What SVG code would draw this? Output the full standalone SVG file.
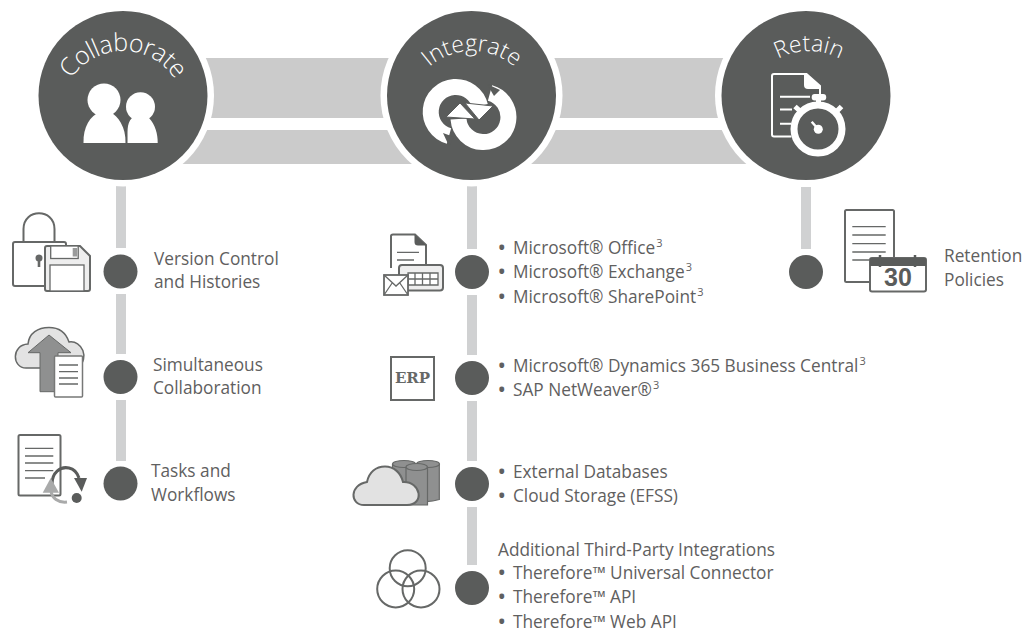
<svg xmlns="http://www.w3.org/2000/svg" xmlns:xlink="http://www.w3.org/1999/xlink" width="1026" height="633" viewBox="0 0 1026 633">
<style>
text{font-family:"Open Sans","Liberation Sans",sans-serif}
.t{font-size:17.25px;fill:#5f6060}
.s{font-size:11px}
.b{font-weight:700}
.title{fill:#fff;font-weight:300}
.band{fill:#cbcbcb}
.bar{fill:#d0d1d2}
.dot{fill:#5a5c5b}
.big{fill:#5a5c5b}
.ring{fill:#fff}
.ol{fill:none;stroke:#666867;stroke-width:2;stroke-linejoin:round}
.th{fill:none;stroke:#666867;stroke-width:1.3}
.wl{fill:none;stroke:#fff;stroke-width:2}
</style>
<defs>
<path id="a1" d="M61 113A62 62 0 0 1 185 113"/>
<path id="a2" d="M407 116A65 65 0 0 1 537 116"/>
<path id="a3" d="M744 116A65 65 0 0 1 874 116"/>
</defs>
<g id="connectors">
<rect class="band" x="123" y="58" width="683" height="60"/>
<rect class="band" x="123" y="130" width="683" height="34"/>
<rect class="bar" x="116" y="186" width="10" height="62"/>
<rect class="bar" x="116" y="294" width="10" height="60"/>
<rect class="bar" x="116" y="400" width="10" height="61"/>
<rect class="bar" x="467" y="186" width="10" height="63"/>
<rect class="bar" x="467" y="295" width="10" height="60"/>
<rect class="bar" x="467" y="401" width="10" height="60"/>
<rect class="bar" x="467" y="507" width="10" height="58"/>
<rect class="bar" x="801" y="187" width="10" height="62"/>
</g>
<g id="collaborate">
<circle class="ring" cx="123" cy="95.5" r="91"/>
<circle class="big" cx="123" cy="95.5" r="84.5"/>
<text class="title" text-anchor="middle" font-size="25" letter-spacing="-0.6"><textPath xlink:href="#a1" href="#a1" startOffset="50%">Collaborate</textPath></text>
<circle cx="104" cy="100" r="16.5" fill="#fff"/>
<path d="M83.5 143C83 127 90 116 100 112H110C118 116 126 127 125.500 143Z" fill="#fff"/>
<circle cx="140.500" cy="106.700" r="14.500" fill="#fff"/>
<path d="M127.500 143C128 132 126 124 132 118H149C155 124 158 134 157.700 143Z" fill="#fff"/>
</g>
<g id="integrate">
<circle class="ring" cx="471.500" cy="95.5" r="91"/>
<circle class="big" cx="471.500" cy="95.5" r="84.5"/>
<text class="title" text-anchor="middle" font-size="23"><textPath xlink:href="#a2" href="#a2" startOffset="50%">Integrate</textPath></text>
<path d="M449 136A25 25 0 1 1 480 106" fill="none" stroke="#fff" stroke-width="16"/>
<path d="M490 93A25 25 0 1 1 458.500 119" fill="none" stroke="#fff" stroke-width="16"/>
<polygon points="465,103 493,106 479,120" fill="#fff" stroke="#5a5c5b" stroke-width="1"/>
<polygon points="446,117 475,119 460,103" fill="#fff" stroke="#5a5c5b" stroke-width="1"/>
<polygon points="443,133 449,146 454,137" fill="#5a5c5b"/>
<polygon points="487,84 494,96 500,90" fill="#5a5c5b"/>
</g>
<g id="retain">
<circle class="ring" cx="806" cy="95.5" r="91"/>
<circle class="big" cx="806" cy="95.5" r="84.5"/>
<text class="title" text-anchor="middle" font-size="23"><textPath xlink:href="#a3" href="#a3" startOffset="50%">Retain</textPath></text>
<path class="wl" d="M791.500 136.500H774Q772 136.500 772 134.500V76Q772 74 774 74H806.500L820 86V95"/>
<path d="M804 74H806.500L820 86V89H808Q804 89 804 85Z" fill="#fff"/>
<path class="wl" d="M780 96.700H810M780 109.500H792M780 123.700H791"/>
<rect x="811.700" y="94" width="14.500" height="6.500" rx="3" fill="#fff"/>
<rect x="816" y="99" width="5" height="5" fill="#fff"/>
<circle cx="818" cy="129" r="24" fill="none" stroke="#fff" stroke-width="7"/>
<path d="M795 106.500L800 111M841.500 106.500L836 112" stroke="#fff" stroke-width="5" fill="none"/>
<circle cx="818.300" cy="129.300" r="4.500" fill="#fff"/>
<path d="M811.700 121.700L818 129" stroke="#fff" stroke-width="2.500"/>
</g>
<g id="version-control">
<rect class="ol" x="13" y="242" width="53" height="44" rx="2"/>
<path class="ol" d="M23.500 242V229C23.500 208 54.500 208 54.500 229V242"/>
<circle cx="39" cy="258" r="3.500" fill="#666867"/><rect x="37.700" y="258" width="2.600" height="9" fill="#666867"/>
<path d="M47 246H80L90 256V289Q90 291 88 291H47Q45 291 45 289V248Q45 246 47 246Z" fill="#eeeeee" stroke="#666867" stroke-width="2"/>
<rect class="th" x="50.700" y="246" width="27.500" height="12.500" style="fill:#fff"/>
<rect x="72.700" y="248" width="4.500" height="8.500" fill="#9a9b9b"/>
<rect class="th" x="50" y="265" width="34" height="26" style="fill:#fff"/>
<circle class="dot" cx="120.500" cy="271.500" r="17"/>
<text class="t" x="154" y="265">Version Control</text>
<text class="t" x="154" y="288">and Histories</text>
</g>
<g id="simultaneous-collaboration">
<path d="M26 368C12 368 11 345 28 344C29 333 38 327.500 49 327.500C60 327.500 66 333 69 342C82 340 90 358 78 368Z" fill="#e3e3e3" stroke="#666867" stroke-width="1.500"/>
<path d="M49 335L71 352.700H58V391.700H40V352.700H28Z" fill="#8f9090" stroke="#666867" stroke-width="1"/>
<rect x="54.500" y="356" width="28" height="41" rx="1" fill="#fff" stroke="#777877" stroke-width="1.500"/>
<path class="th" d="M59 365H78M59 371.700H78M59 378H78M59 384H78"/>
<circle class="dot" cx="120.500" cy="377" r="17"/>
<text class="t" x="153" y="371">Simultaneous</text>
<text class="t" x="153" y="394.300">Collaboration</text>
</g>
<g id="tasks-workflows">
<rect class="ol" x="18.500" y="435" width="42" height="60.500" rx="1.500"/>
<path class="th" d="M25 448.300H53.300M25 456H53.300M25 463H53.300M25 470.700H53.300M25 478H45"/>
<path d="M52 484C52 473 60 466 69 468C74 469 77 472 79 478" fill="none" stroke="#5a5c5b" stroke-width="3"/>
<polygon points="74,478 87,478 81.700,491.700" fill="#5a5c5b"/>
<path d="M67 502C58 503 52 498 51 491" fill="none" stroke="#a9aaaa" stroke-width="3"/>
<polygon points="42.700,492.700 59,492.700 50.700,478" fill="#a9aaaa"/>
<circle cx="76.700" cy="498" r="5" fill="#5a5c5b"/>
<circle class="dot" cx="120.500" cy="483.500" r="17"/>
<text class="t" x="151" y="476.700">Tasks and</text>
<text class="t" x="151" y="500.700">Workflows</text>
</g>
<g id="office">
<path d="M391 268V236Q391 234.500 393 234.500H415L426 245V266" fill="#fff" stroke="#666867" stroke-width="2"/>
<path d="M414.500 234.500L426 245V245.500H418Q414.500 245.500 414.500 242Z" fill="#5a5c5b"/>
<path class="th" d="M397 252.300H419M397 260H414"/>
<rect x="399" y="265" width="44" height="25.500" rx="3" fill="#eeeeee" stroke="#666867" stroke-width="2"/>
<path class="th" d="M408 273H438V285H408ZM415 273V285M422.500 273V285M430 273V285M408 279H438" style="fill:#fff"/>
<rect x="384" y="275" width="24" height="20" fill="#fff" stroke="#666867" stroke-width="1.800"/>
<path class="th" d="M384 275L396 286L408 275M384 295L392.500 282.500M408 295L399.500 282.500"/>
<circle class="dot" cx="472" cy="272" r="17"/>
<text class="t" y="254"><tspan class="b" x="498.500">•</tspan><tspan x="513">Microsoft® Office</tspan><tspan class="s" dy="-7" dx="1">3</tspan></text>
<text class="t" y="278"><tspan class="b" x="498.500">•</tspan><tspan x="513">Microsoft® Exchange</tspan><tspan class="s" dy="-7" dx="1">3</tspan></text>
<text class="t" y="302.700"><tspan class="b" x="498.500">•</tspan><tspan x="513">Microsoft® SharePoint</tspan><tspan class="s" dy="-7" dx="1">3</tspan></text>
</g>
<g id="erp">
<rect x="391" y="357" width="43" height="43" fill="#fff" stroke="#666867" stroke-width="2"/>
<text x="412.500" y="383" text-anchor="middle" font-size="15" font-weight="700" fill="#666867" style="font-family:'DejaVu Serif',serif">ERP</text>
<circle class="dot" cx="472" cy="378" r="17"/>
<text class="t" y="372"><tspan class="b" x="498.500">•</tspan><tspan x="513">Microsoft® Dynamics 365 Business Central</tspan><tspan class="s" dy="-7" dx="1">3</tspan></text>
<text class="t" y="395.700"><tspan class="b" x="498.500">•</tspan><tspan x="513">SAP NetWeaver®</tspan><tspan class="s" dy="-7" dx="1">3</tspan></text>
</g>
<g id="storage">
<g fill="#8f9090" stroke="#666867" stroke-width="1.200">
<path d="M392.500 464V500H415V464"/>
<ellipse cx="404" cy="464" rx="11.500" ry="3.500"/>
<path d="M417 464V500.500Q428 503 439.300 499.500V464"/>
<ellipse cx="428" cy="464" rx="11.500" ry="3.500"/>
<path d="M406 467V505H427.500V467"/>
<ellipse cx="416.700" cy="467" rx="10.700" ry="3.500"/>
</g>
<path d="M364 505C350 505 349 485 367 482C369 472 376 466.500 385 466.500C394 466.500 401 473 403 482C421 481 425 505 407 505Z" fill="#e2e2e2" stroke="#666867" stroke-width="2"/>
<circle class="dot" cx="472" cy="484" r="17"/>
<text class="t" y="478"><tspan class="b" x="498.500">•</tspan><tspan x="513">External Databases</tspan></text>
<text class="t" y="501.700"><tspan class="b" x="498.500">•</tspan><tspan x="513">Cloud Storage (EFSS)</tspan></text>
</g>
<g id="third-party">
<circle class="ol" cx="407.700" cy="568.300" r="18"/>
<circle class="ol" cx="395.700" cy="589" r="18.500"/>
<circle class="ol" cx="421" cy="589" r="18.500"/>
<circle class="dot" cx="472" cy="588" r="17"/>
<text class="t" x="498" y="555.700">Additional Third-Party Integrations</text>
<text class="t" y="579"><tspan class="b" x="498.500">•</tspan><tspan x="513">Therefore™ Universal Connector</tspan></text>
<text class="t" y="603"><tspan class="b" x="498.500">•</tspan><tspan x="513">Therefore™ API</tspan></text>
<text class="t" y="627.500"><tspan class="b" x="498.500">•</tspan><tspan x="513">Therefore™ Web API</tspan></text>
</g>
<g id="retention">
<rect class="ol" x="845" y="210" width="49" height="72" rx="1.500" style="fill:#fff"/>
<path class="th" d="M852.300 226.700H885.700M852.300 235H885.700M852.300 243.700H885.700M852.300 252H885.700M852.300 260H871"/>
<rect x="870" y="258" width="56" height="33.500" rx="2" fill="#fff" stroke="#666867" stroke-width="2"/>
<rect x="870" y="258" width="56" height="8" fill="#5a5c5b"/>
<path d="M880 255V267M915 255V267" stroke="#5a5c5b" stroke-width="2.500"/>
<text x="898" y="286" text-anchor="middle" font-size="25" font-weight="700" fill="#5a5c5b" style="font-family:'Liberation Sans',sans-serif">30</text>
<circle class="dot" cx="806" cy="272" r="17"/>
<text class="t" x="944" y="261.700">Retention</text>
<text class="t" x="944" y="285.700">Policies</text>
</g>
</svg>
